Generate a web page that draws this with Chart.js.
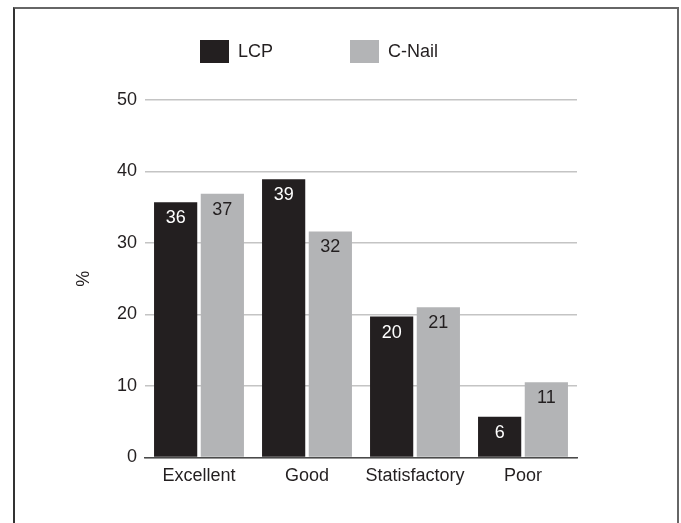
<!DOCTYPE html>
<html>
<head>
<meta charset="utf-8">
<script src="https://cdn.jsdelivr.net/npm/chart.js@4"></script>
<style>
  html, body { margin:0; padding:0; background:#fff; }
  #wrap { position:relative; width:681px; height:523px; overflow:hidden; font-family:"Liberation Sans", Arial, sans-serif; }
  #frame { position:absolute; left:13px; top:7px; width:666px; height:540px; border:2px solid #666; border-left-color:#333; box-sizing:border-box; }
  #legend { position:absolute; top:40px; left:200px; display:flex; align-items:center; font-size:18px; color:#231f20; height:23px; }
  .item { display:flex; align-items:center; }
  .box { width:29px; height:23px; margin-right:9px; }
  canvas { position:absolute; left:0; top:0; }
</style>
</head>
<body>
<div id="wrap">
  <div id="frame"></div>
  <canvas id="c" width="681" height="523"></canvas>
  <div id="legend"></div>
</div>
<script>
const categories = ["Excellent", "Good", "Statisfactory", "Poor"];
const seriesNames = ["LCP", "C-Nail"];
const lcpValues = [35.7, 38.9, 19.7, 5.7];
const cnailValues = [36.9, 31.6, 21.0, 10.5];
const yTicks = [0, 10, 20, 30, 40, 50];
const colors = ["#231f20", "#b3b4b6"];
const labelColors = ["#ffffff", "#231f20"];

const legend = document.getElementById('legend');
seriesNames.forEach((n, i) => {
  const it = document.createElement('div');
  it.className = 'item';
  it.style.marginRight = i === 0 ? '77px' : '0';
  it.innerHTML = '<div class="box" style="background:' + colors[i] + '"></div><span>' + n + '</span>';
  legend.appendChild(it);
});

const FONT = '"Liberation Sans", Arial, sans-serif';

const valueLabels = {
  id: 'valueLabels',
  afterDatasetsDraw(chart) {
    const ctx = chart.ctx;
    ctx.save();
    ctx.font = '18px ' + FONT;
    ctx.textAlign = 'center';
    ctx.textBaseline = 'middle';
    chart.data.datasets.forEach((ds, di) => {
      const meta = chart.getDatasetMeta(di);
      meta.data.forEach((bar, i) => {
        ctx.fillStyle = labelColors[di];
        ctx.fillText(String(Math.round(ds.data[i])), bar.x, bar.y + 16);
      });
    });
    ctx.restore();
  }
};

new Chart(document.getElementById('c'), {
  type: 'bar',
  data: {
    labels: categories,
    datasets: [
      { label: seriesNames[0], data: lcpValues, backgroundColor: colors[0] },
      { label: seriesNames[1], data: cnailValues, backgroundColor: colors[1] }
    ]
  },
  options: {
    responsive: false,
    animation: false,
    devicePixelRatio: 1,
    layout: { padding: { left: 70, right: 104, top: 100, bottom: 28 } },
    datasets: { bar: { categoryPercentage: 0.865, barPercentage: 0.925 } },
    plugins: { legend: { display: false }, tooltip: { enabled: false } },
    scales: {
      x: {
        grid: { display: false, drawTicks: false },
        border: { display: true, color: '#4a4a4a', width: 1.5 },
        ticks: { color: '#231f20', font: { family: FONT, size: 18 }, padding: 8 }
      },
      y: {
        min: 0, max: 50,
        afterBuildTicks(scale) { scale.ticks = yTicks.map(v => ({ value: v })); },
        afterFit(scale) { scale.width = 75; },
        grid: { color: '#c4c4c4', lineWidth: 1.5, drawTicks: false },
        border: { display: false },
        ticks: { color: '#231f20', font: { family: FONT, size: 18 }, padding: 8 },
        title: { display: true, text: '%', color: '#231f20', font: { family: FONT, size: 18 }, padding: { top: 3, bottom: 0 } }
      }
    }
  },
  plugins: [valueLabels]
});
</script>
</body>
</html>
